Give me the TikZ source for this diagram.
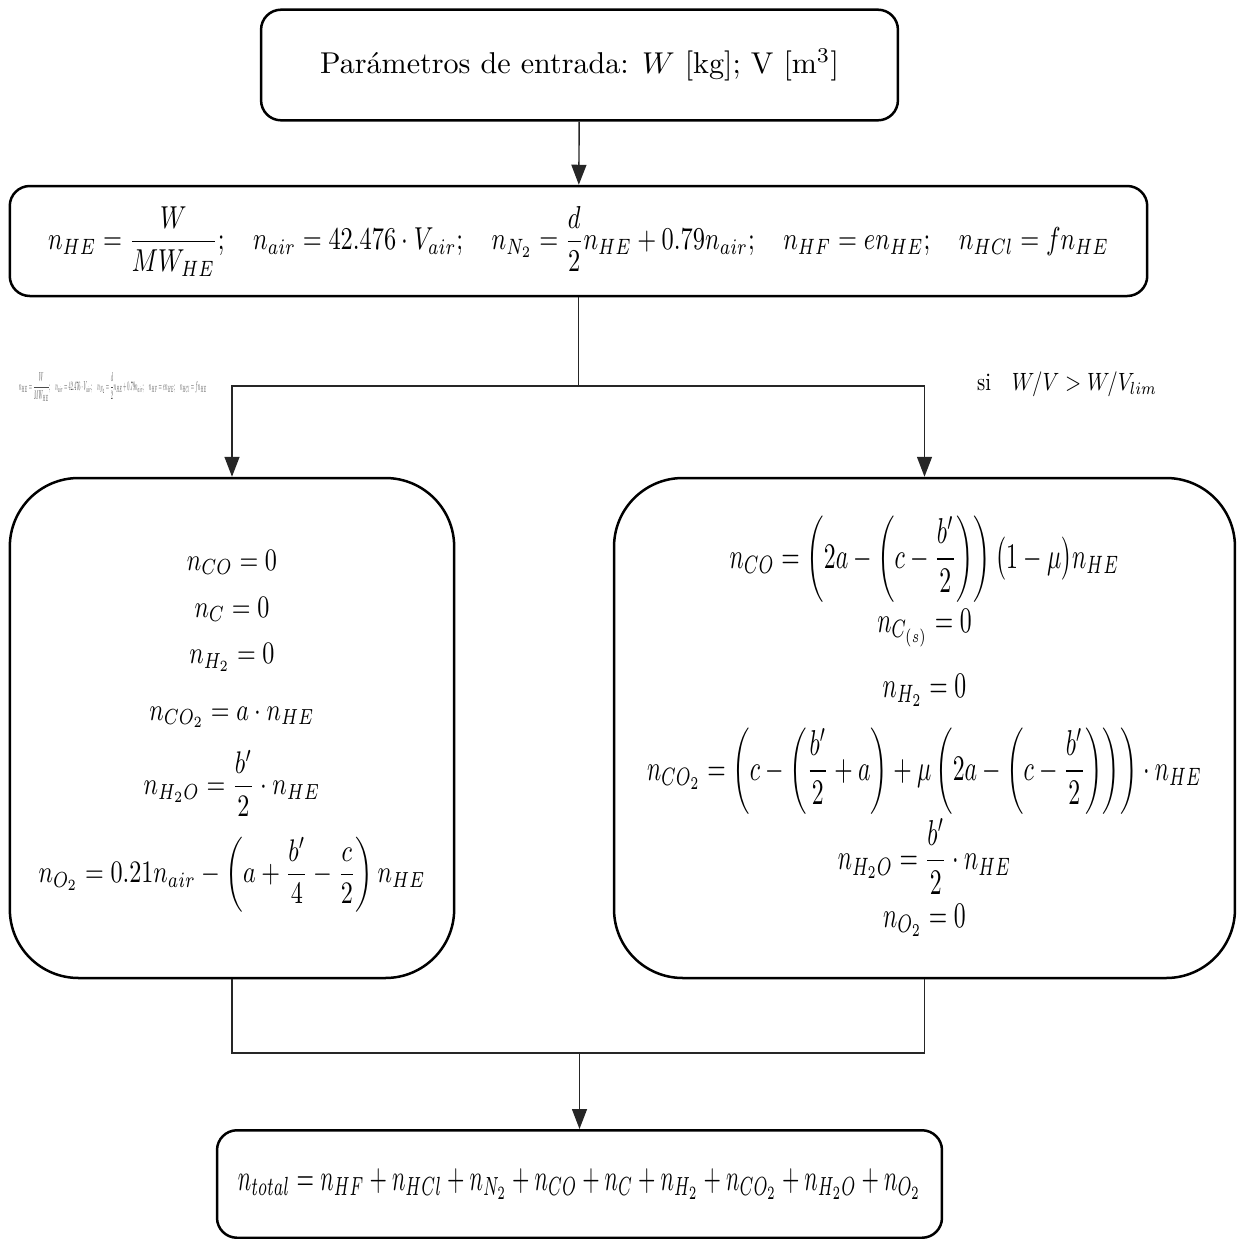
\documentclass[tikz,border=0pt]{standalone}
\usepackage{amsmath,amssymb}
\usepackage{graphicx}
\usetikzlibrary{arrows.meta}
\newcommand{\moleseq}{$\displaystyle n_{HE}=\frac{W}{MW_{HE}};\quad n_{air}=42.476\cdot V_{air};\quad n_{N_2}=\frac{d}{2}n_{HE}+0.79n_{air};\quad n_{HF}=en_{HE};\quad n_{HCl}=fn_{HE}$}
\tikzset{
  flowbox/.style={draw,line width=0.8pt,rounded corners=6.4pt,inner sep=0pt,align=center},
  casebox/.style={draw,line width=0.8pt,rounded corners=22pt,inner sep=0pt,align=center},
  conn/.style={line width=0.45pt,draw=black!85},
  arr/.style={conn,-{Triangle[length=6.4pt,width=4.8pt]}}
}

\begin{document}
\begin{tikzpicture}[x=0.32pt,y=-0.32pt]
  \useasboundingbox (0,0) rectangle (1239,1239);
  \node[flowbox,minimum width=203.8pt,minimum height=35.4pt] (input) at (579.5,65)
    {\resizebox{166pt}{!}{Parámetros de entrada: $W$ [kg]; V [m$^3$]}};
  \node[flowbox,minimum width=364pt,minimum height=35.2pt] (moles) at (578.5,241)
    {\resizebox*{339.5pt}{22.4pt}{\moleseq}};
  \node[anchor=west,text=black!70] (mini) at (8,387) {\resizebox*{60pt}{9pt}{\moleseq}};
  \node[anchor=west] (cond) at (966,384) {\resizebox*{57.6pt}{8pt}{si\quad $W/V>W/V_{lim}$}};
  \node[casebox,minimum width=142.2pt,minimum height=160pt] (lean) at (232,728)
    {\resizebox*{123.8pt}{117.8pt}{$\begin{array}{@{}c@{}}
      n_{CO}=0\\[3pt]
      n_{C}=0\\[3pt]
      n_{H_2}=0\\[6pt]
      n_{CO_2}=a\cdot n_{HE}\\[6pt]
      n_{H_2O}=\dfrac{b'}{2}\cdot n_{HE}\\[10pt]
      n_{O_2}=0.21n_{air}-\left(a+\dfrac{b'}{4}-\dfrac{c}{2}\right)n_{HE}
    \end{array}$}};
  \node[casebox,minimum width=198.7pt,minimum height=160pt] (rich) at (924.5,728)
    {\resizebox*{177.6pt}{135.7pt}{$\begin{array}{@{}c@{}}
      n_{CO}=\left(2a-\left(c-\dfrac{b'}{2}\right)\right)\bigl(1-\mu\bigr)n_{HE}\\[4pt]
      n_{C_{(s)}}=0\\[6pt]
      n_{H_2}=0\\[5pt]
      n_{CO_2}=\left(c-\left(\dfrac{b'}{2}+a\right)+\mu\left(2a-\left(c-\dfrac{b'}{2}\right)\right)\right)\cdot n_{HE}\\[7pt]
      n_{H_2O}=\dfrac{b'}{2}\cdot n_{HE}\\[4pt]
      n_{O_2}=0
    \end{array}$}};
  \node[flowbox,minimum width=232pt,minimum height=34.4pt] (total) at (579.5,1184)
    {\resizebox*{218.6pt}{10pt}{$n_{total}=n_{HF}+n_{HCl}+n_{N_2}+n_{CO}+n_{C}+n_{H_2}+n_{CO_2}+n_{H_2O}+n_{O_2}$}};
  \coordinate (split) at (578.5,386);
  \coordinate (merge) at (579.5,1053);
  \draw[arr] (input) -- (moles);
  \draw[conn] (moles.south) -- (split);
  \draw[arr] (split) -| (lean.north);
  \draw[arr] (split) -| (rich.north);
  \draw[conn] (lean.south) |- (merge) -| (rich.south);
  \draw[arr] (merge) -- (total);
\end{tikzpicture}
\end{document}
